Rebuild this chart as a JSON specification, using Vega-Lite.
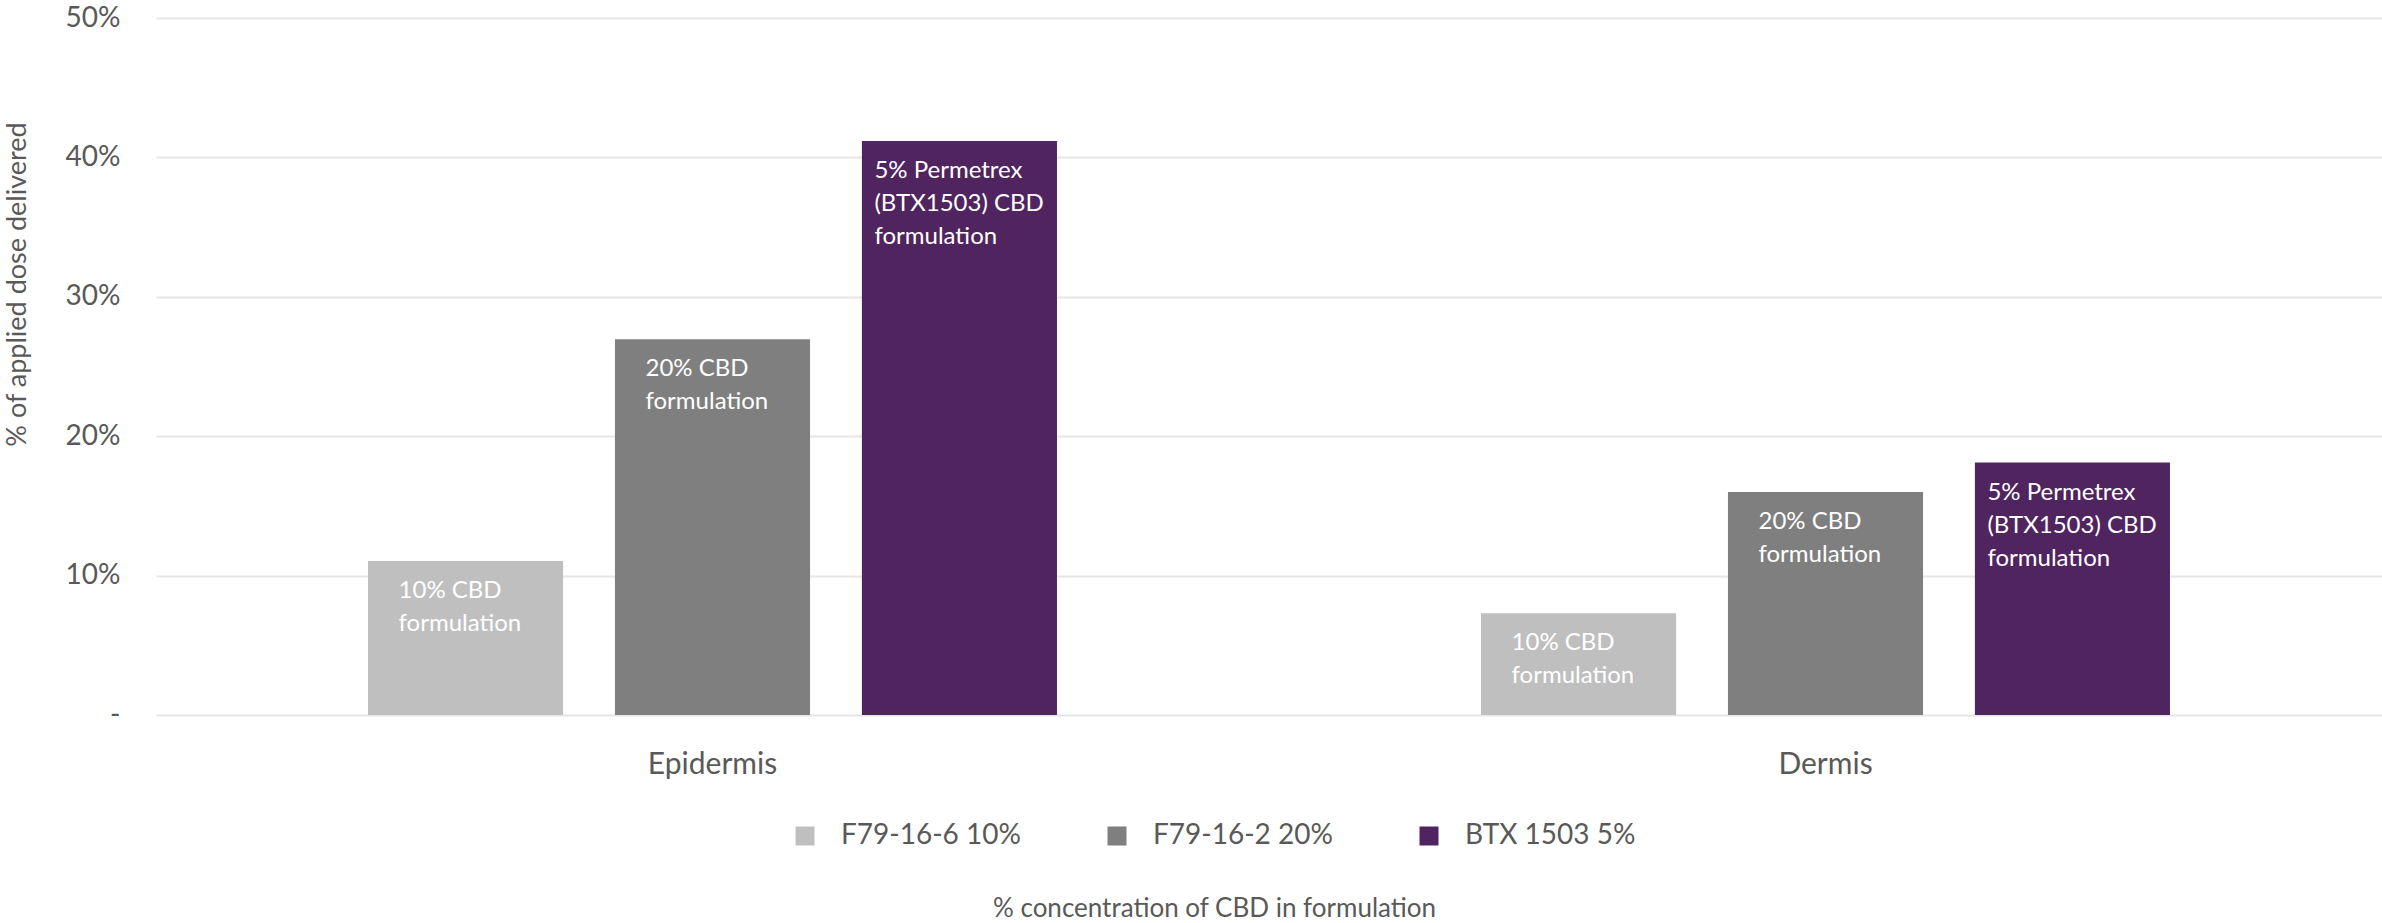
{
  "$schema": "https://vega.github.io/schema/vega-lite/v6.json",
  "width": 2226,
  "height": 697,
  "autosize": {"type": "none"},
  "padding": {"left": 156, "top": 18, "right": 0, "bottom": 208},
  "background": "white",
  "config": {"view": {"stroke": null}, "font": "Lato"},
  "data": {
    "values": [
      {"layer": "Epidermis", "formulation": "F79-16-6 10%", "value": 0.1105, "label": "10% CBD\nformulation"},
      {"layer": "Epidermis", "formulation": "F79-16-2 20%", "value": 0.2696, "label": "20% CBD\nformulation"},
      {"layer": "Epidermis", "formulation": "BTX 1503 5%", "value": 0.4117, "label": "5% Permetrex\n(BTX1503) CBD\nformulation"},
      {"layer": "Dermis", "formulation": "F79-16-6 10%", "value": 0.073, "label": "10% CBD\nformulation"},
      {"layer": "Dermis", "formulation": "F79-16-2 20%", "value": 0.16, "label": "20% CBD\nformulation"},
      {"layer": "Dermis", "formulation": "BTX 1503 5%", "value": 0.1811, "label": "5% Permetrex\n(BTX1503) CBD\nformulation"}
    ]
  },
  "encoding": {
    "x": {
      "field": "layer", "type": "nominal", "sort": ["Epidermis", "Dermis"],
      "scale": {"paddingInner": 0.381, "paddingOuter": 0.1905},
      "axis": {
        "domain": false, "ticks": false, "labelAngle": 0,
        "labelFontSize": 30, "labelColor": "#595959", "labelPadding": 34,
        "title": "% concentration of CBD in formulation",
        "titleFontSize": 26, "titleFontWeight": "normal", "titleColor": "#595959",
        "titleX": 1058, "titleY": 193, "titleBaseline": "middle", "titleAlign": "center"
      }
    },
    "xOffset": {
      "field": "formulation", "type": "nominal",
      "sort": ["F79-16-6 10%", "F79-16-2 20%", "BTX 1503 5%"],
      "scale": {"paddingInner": 0.21, "paddingOuter": 0}
    },
    "y": {
      "field": "value", "type": "quantitative",
      "scale": {"domain": [0, 0.5]},
      "axis": {
        "values": [0, 0.1, 0.2, 0.3, 0.4, 0.5],
        "labelExpr": "datum.value == 0 ? '-' : format(datum.value, '.0%')",
        "domain": false, "ticks": false, "labelPadding": 36,
        "labelFontSize": 28, "labelColor": "#595959",
        "gridColor": "#e6e6e6", "gridWidth": 2,
        "title": "% of applied dose delivered",
        "titleFontSize": 27, "titleFontWeight": "normal", "titleColor": "#595959",
        "titleX": -152, "titleY": 266, "titleAngle": -90, "titleBaseline": "top", "titleAlign": "center"
      }
    }
  },
  "layer": [
    {
      "mark": {"type": "bar"},
      "encoding": {
        "color": {
          "field": "formulation", "type": "nominal",
          "scale": {"domain": ["F79-16-6 10%", "F79-16-2 20%", "BTX 1503 5%"], "range": ["#bfbfbf", "#7f7f7f", "#50245f"]},
          "legend": {
            "orient": "none", "legendX": 635, "legendY": 804, "direction": "horizontal",
            "columns": 3, "gridAlign": "all",
            "title": null, "symbolType": "square", "symbolSize": 361, "symbolStrokeWidth": 0,
            "labelFontSize": 28, "labelColor": "#595959", "labelLimit": 0, "columnPadding": 82, "labelOffset": 22, "padding": 0
          }
        }
      }
    },
    {
      "transform": [{"filter": "datum.formulation != 'BTX 1503 5%'"}],
      "mark": {"type": "text", "align": "left", "baseline": "top", "dx": -67, "dy": 18, "color": "white", "fontSize": 24, "lineHeight": 33, "lineBreak": "\n"},
      "encoding": {"text": {"field": "label"}}
    },
    {
      "transform": [{"filter": "datum.formulation == 'BTX 1503 5%'"}],
      "mark": {"type": "text", "align": "left", "baseline": "top", "dx": -85, "dy": 18, "color": "white", "fontSize": 24, "lineHeight": 33, "lineBreak": "\n"},
      "encoding": {"text": {"field": "label"}}
    }
  ]
}
